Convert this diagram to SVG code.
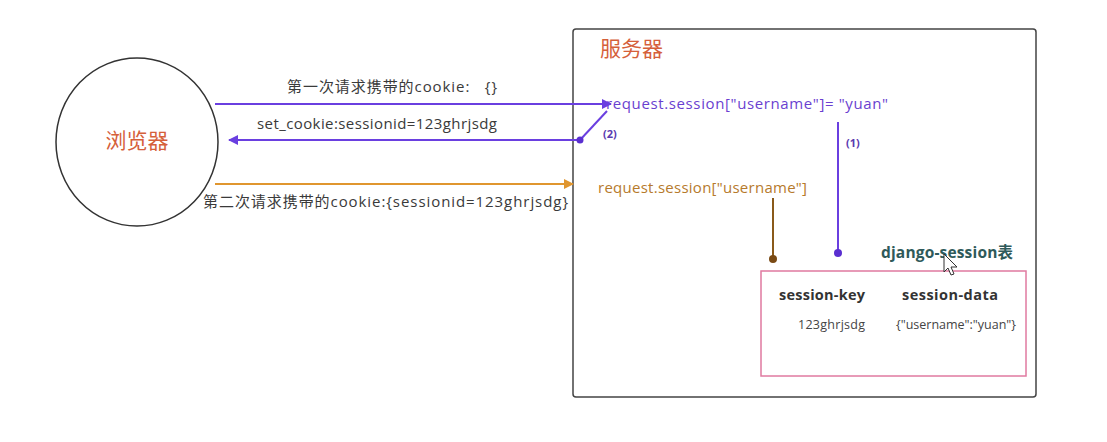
<svg xmlns="http://www.w3.org/2000/svg" width="1107" height="442" viewBox="0 0 1107 442">
<defs>
<style>
text{font-family:"Open Sans","Noto Sans CJK SC",sans-serif;}
.lbl{font-size:15px;fill:#3a3a3a;}
.title{font-size:21px;fill:#d5603a;font-family:"Noto Sans CJK SC",sans-serif;}
.pur{stroke:#6a3fe0;stroke-width:2;fill:none;}
.org{stroke:#e0962f;stroke-width:2;fill:none;}
.brn{stroke:#8a5a1a;stroke-width:2;fill:none;}
.hdr{font-size:14.5px;font-weight:bold;fill:#333;}
.cell{font-size:12.5px;fill:#444;}
.num{font-size:11px;font-weight:bold;fill:#5a3ab0;}
</style>
<marker id="ap" viewBox="0 0 10 10" refX="9" refY="5" markerWidth="5" markerHeight="5" orient="auto-start-reverse"><path d="M0,0 L10,5 L0,10 z" fill="#6a3fe0"/></marker>
<marker id="ao" viewBox="0 0 10 10" refX="9" refY="5" markerWidth="5" markerHeight="5" orient="auto"><path d="M0,0 L10,5 L0,10 z" fill="#e0962f"/></marker>
</defs>
<rect width="1107" height="442" fill="#fff"/>

<g id="browser">
<ellipse cx="137" cy="142" rx="81" ry="84" fill="#fff" stroke="#333" stroke-width="1.5"/>
<text class="title" x="137" y="148" text-anchor="middle" font-size="22">浏览器</text>
</g>

<g id="server">
<rect x="573" y="29" width="463" height="368" rx="3" fill="none" stroke="#444" stroke-width="1.5"/>
<text class="title" x="600" y="56">服务器</text>
</g>

<g id="session-set">
<text x="606" y="109" font-size="15" fill="#6a3fd0" textLength="282" lengthAdjust="spacing">request.session["username"]= "yuan"</text>
</g>

<g id="session-get">
<text x="598" y="193" font-size="15" fill="#b67a2c" textLength="209" lengthAdjust="spacing">request.session["username"]</text>
</g>

<g id="django-session">
<text x="881" y="258" font-size="15.5" font-weight="bold" fill="#2f5a5a" textLength="132" lengthAdjust="spacing">django-session表</text>
<rect x="761" y="271" width="265" height="105" fill="none" stroke="#e07aa0" stroke-width="1.5"/>
<text class="hdr" x="779" y="300" textLength="86" lengthAdjust="spacing">session-key</text>
<text class="hdr" x="902" y="300" textLength="96" lengthAdjust="spacing">session-data</text>
<text class="cell" x="798" y="329" textLength="67" lengthAdjust="spacing">123ghrjsdg</text>
<text class="cell" x="896" y="329" textLength="120" lengthAdjust="spacing">{"username":"yuan"}</text>
</g>

<g id="connectors">
<line class="pur" x1="215" y1="104" x2="611" y2="104" marker-end="url(#ap)"/>
<text class="lbl" x="287" y="92" xml:space="preserve" textLength="210" lengthAdjust="spacing">第一次请求携带的cookie:   {}</text>
<line class="pur" x1="580" y1="140" x2="229" y2="140" marker-end="url(#ap)"/>
<text class="lbl" x="257" y="129" textLength="240" lengthAdjust="spacing">set_cookie:sessionid=123ghrjsdg</text>
<line class="pur" x1="580" y1="140" x2="607" y2="111"/>
<circle cx="580" cy="140" r="3.5" fill="#5a2fd0"/>
<text class="num" x="603" y="138">(2)</text>
<line class="pur" x1="838" y1="122" x2="838" y2="253"/>
<circle cx="838" cy="253" r="4" fill="#5a2fd0"/>
<text class="num" x="846" y="147">(1)</text>
<line class="org" x1="215" y1="184" x2="573" y2="184" marker-end="url(#ao)"/>
<text class="lbl" x="203" y="207" textLength="365" lengthAdjust="spacing">第二次请求携带的cookie:{sessionid=123ghrjsdg}</text>
<line class="brn" x1="773" y1="198" x2="773" y2="259"/>
<circle cx="773" cy="259" r="4" fill="#7a4a14"/>
</g>

<path d="M944,254 L944,272 L948,268 L951,275 L954,274 L951,267 L957,267 Z" fill="#fff" stroke="#333" stroke-width="1"/>
</svg>
